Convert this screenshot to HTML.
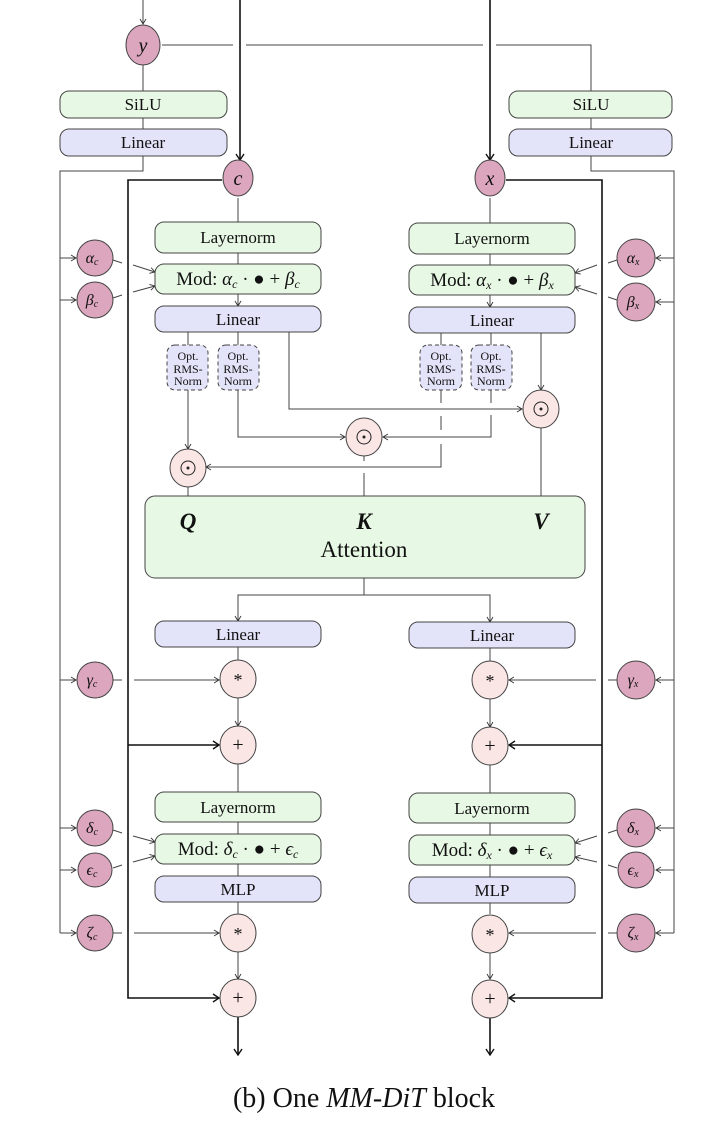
<!DOCTYPE html>
<html><head><meta charset="utf-8"><style>
html,body{margin:0;padding:0;background:#fff;}
svg{display:block;}
text{font-family:"Liberation Serif",serif;fill:#111;}
</style></head><body>
<svg width="716" height="1140" viewBox="0 0 716 1140" xmlns="http://www.w3.org/2000/svg">
<defs>
<marker id="a" markerWidth="8" markerHeight="8" refX="6" refY="4" orient="auto" markerUnits="userSpaceOnUse">
<path d="M1,1 L6,4 L1,7" fill="none" stroke="#333" stroke-width="0.9"/></marker>
<marker id="b" markerWidth="10" markerHeight="10" refX="8" refY="5" orient="auto" markerUnits="userSpaceOnUse">
<path d="M2,1 L8,5 L2,9" fill="none" stroke="#111" stroke-width="1.4"/></marker>
</defs>
<g fill="none" stroke="#444" stroke-width="1">
<line x1="143" y1="0" x2="143" y2="24" marker-end="url(#a)"/>
<line x1="143" y1="65" x2="143" y2="91"/>
<polyline points="162,45 233,45"/>
<polyline points="246,45 483,45"/>
<polyline points="496,45 591,45 591,91"/>
<line x1="143" y1="118" x2="143" y2="129"/>
<line x1="591" y1="118" x2="591" y2="129"/>
<polyline points="143,156 143,171 60,171 60,933"/>
<polyline points="591,156 591,171 674,171 674,933"/>
<line x1="60" y1="258" x2="76" y2="258" marker-end="url(#a)"/>
<line x1="60" y1="300" x2="76" y2="300" marker-end="url(#a)"/>
<line x1="60" y1="680" x2="76" y2="680" marker-end="url(#a)"/>
<line x1="60" y1="828" x2="76" y2="828" marker-end="url(#a)"/>
<line x1="60" y1="870" x2="76" y2="870" marker-end="url(#a)"/>
<line x1="60" y1="933" x2="76" y2="933" marker-end="url(#a)"/>
<line x1="674" y1="258" x2="656" y2="258" marker-end="url(#a)"/>
<line x1="674" y1="302" x2="656" y2="302" marker-end="url(#a)"/>
<line x1="674" y1="680" x2="656" y2="680" marker-end="url(#a)"/>
<line x1="674" y1="828" x2="656" y2="828" marker-end="url(#a)"/>
<line x1="674" y1="870" x2="656" y2="870" marker-end="url(#a)"/>
<line x1="674" y1="933" x2="656" y2="933" marker-end="url(#a)"/>
<line x1="113" y1="260" x2="122" y2="263"/><line x1="133" y1="265" x2="155" y2="272" marker-end="url(#a)"/>
<line x1="113" y1="298" x2="122" y2="295"/><line x1="133" y1="292" x2="155" y2="286" marker-end="url(#a)"/>
<line x1="617" y1="260" x2="608" y2="263"/><line x1="597" y1="265" x2="575" y2="273" marker-end="url(#a)"/>
<line x1="617" y1="300" x2="608" y2="297"/><line x1="597" y1="294" x2="575" y2="287" marker-end="url(#a)"/>
<line x1="113" y1="830" x2="122" y2="833"/><line x1="133" y1="836" x2="155" y2="842" marker-end="url(#a)"/>
<line x1="113" y1="868" x2="122" y2="865"/><line x1="133" y1="862" x2="155" y2="856" marker-end="url(#a)"/>
<line x1="617" y1="830" x2="608" y2="833"/><line x1="597" y1="836" x2="575" y2="843" marker-end="url(#a)"/>
<line x1="617" y1="868" x2="608" y2="865"/><line x1="597" y1="862" x2="575" y2="857" marker-end="url(#a)"/>
<line x1="113" y1="680" x2="122" y2="680"/><line x1="134" y1="680" x2="219" y2="680" marker-end="url(#a)"/>
<line x1="113" y1="933" x2="122" y2="933"/><line x1="134" y1="933" x2="219" y2="933" marker-end="url(#a)"/>
<line x1="617" y1="680" x2="608" y2="680"/><line x1="596" y1="680" x2="509" y2="680" marker-end="url(#a)"/>
<line x1="617" y1="933" x2="608" y2="933"/><line x1="596" y1="933" x2="509" y2="933" marker-end="url(#a)"/>
<line x1="238" y1="198" x2="238" y2="222"/>
<line x1="238" y1="253" x2="238" y2="264"/>
<line x1="238" y1="294" x2="238" y2="306" marker-end="url(#a)"/>
<line x1="490" y1="198" x2="490" y2="223"/>
<line x1="490" y1="254" x2="490" y2="265"/>
<line x1="490" y1="295" x2="490" y2="307" marker-end="url(#a)"/>
<line x1="188" y1="332" x2="188" y2="345"/>
<line x1="238" y1="332" x2="238" y2="345"/>
<line x1="441" y1="333" x2="441" y2="345"/>
<line x1="491" y1="333" x2="491" y2="345"/>
<line x1="188" y1="390" x2="188" y2="449" marker-end="url(#a)"/>
<polyline points="238,390 238,437 345,437" marker-end="url(#a)"/>
<polyline points="289,332 289,409 522,409" marker-end="url(#a)"/>
<line x1="541" y1="333" x2="541" y2="390" marker-end="url(#a)"/>
<polyline points="441,390 441,403"/><polyline points="441,416 441,430"/><polyline points="441,444 441,467 206,467" marker-end="url(#a)"/>
<polyline points="491,390 491,403"/><polyline points="491,415 491,437 383,437" marker-end="url(#a)"/>
<line x1="188" y1="487" x2="188" y2="496"/>
<line x1="364" y1="456" x2="364" y2="461"/>
<line x1="364" y1="473" x2="364" y2="496"/>
<line x1="541" y1="428" x2="541" y2="496"/>
<line x1="364" y1="578" x2="364" y2="595"/>
<polyline points="238,612 238,595 490,595 490,622" marker-end="url(#a)"/>
<line x1="238" y1="612" x2="238" y2="621" marker-end="url(#a)"/>
<line x1="238" y1="647" x2="238" y2="660"/>
<line x1="490" y1="648" x2="490" y2="661"/>
<line x1="238" y1="698" x2="238" y2="726" marker-end="url(#a)"/>
<line x1="490" y1="699" x2="490" y2="727" marker-end="url(#a)"/>
<line x1="238" y1="764" x2="238" y2="792"/>
<line x1="490" y1="765" x2="490" y2="793"/>
<line x1="238" y1="822" x2="238" y2="834"/>
<line x1="490" y1="823" x2="490" y2="835"/>
<line x1="238" y1="864" x2="238" y2="876"/>
<line x1="490" y1="865" x2="490" y2="877"/>
<line x1="238" y1="902" x2="238" y2="914"/>
<line x1="490" y1="903" x2="490" y2="914"/>
<line x1="238" y1="952" x2="238" y2="979" marker-end="url(#a)"/>
<line x1="490" y1="952" x2="490" y2="979" marker-end="url(#a)"/>
</g>
<g fill="none" stroke="#111" stroke-width="1.6">
<line x1="240" y1="0" x2="240" y2="160" marker-end="url(#b)"/>
<line x1="490" y1="0" x2="490" y2="160" marker-end="url(#b)"/>
<polyline points="222,180 128,180 128,998 219,998" marker-end="url(#b)"/>
<polyline points="506,180 602,180 602,998 509,998" marker-end="url(#b)"/>
<line x1="128" y1="745" x2="219" y2="745" marker-end="url(#b)"/>
<line x1="602" y1="745" x2="509" y2="745" marker-end="url(#b)"/>
<line x1="238" y1="1017" x2="238" y2="1055" marker-end="url(#b)"/>
<line x1="490" y1="1017" x2="490" y2="1055" marker-end="url(#b)"/>
</g>
<g stroke="#444" stroke-width="1">
<rect x="60" y="91" width="167" height="27" rx="9" fill="#e7f8e4"/>
<rect x="60" y="129" width="167" height="27" rx="9" fill="#e3e4f9"/>
<rect x="509" y="91" width="163" height="27" rx="9" fill="#e7f8e4"/>
<rect x="509" y="129" width="163" height="27" rx="9" fill="#e3e4f9"/>
<rect x="155" y="222" width="166" height="31" rx="9" fill="#e7f8e4"/>
<rect x="155" y="264" width="166" height="30" rx="9" fill="#e7f8e4"/>
<rect x="155" y="306" width="166" height="26" rx="9" fill="#e3e4f9"/>
<rect x="409" y="223" width="166" height="31" rx="9" fill="#e7f8e4"/>
<rect x="409" y="265" width="166" height="30" rx="9" fill="#e7f8e4"/>
<rect x="409" y="307" width="166" height="26" rx="9" fill="#e3e4f9"/>
<rect x="145" y="496" width="440" height="82" rx="10" fill="#e7f8e4"/>
<rect x="155" y="621" width="166" height="26" rx="9" fill="#e3e4f9"/>
<rect x="409" y="622" width="166" height="26" rx="9" fill="#e3e4f9"/>
<rect x="155" y="792" width="166" height="30" rx="9" fill="#e7f8e4"/>
<rect x="155" y="834" width="166" height="30" rx="9" fill="#e7f8e4"/>
<rect x="155" y="876" width="166" height="26" rx="9" fill="#e3e4f9"/>
<rect x="409" y="793" width="166" height="30" rx="9" fill="#e7f8e4"/>
<rect x="409" y="835" width="166" height="30" rx="9" fill="#e7f8e4"/>
<rect x="409" y="877" width="166" height="26" rx="9" fill="#e3e4f9"/>
</g>
<g stroke="#444" stroke-width="1" stroke-dasharray="4,3" fill="#e3e4f9">
<rect x="167" y="345" width="41" height="45" rx="8"/>
<rect x="218" y="345" width="41" height="45" rx="8"/>
<rect x="420" y="345" width="42" height="45" rx="8"/>
<rect x="471" y="345" width="41" height="45" rx="8"/>
</g>
<g stroke="#444" stroke-width="1" fill="#dca6be">
<ellipse cx="143" cy="45" rx="17" ry="20"/>
<ellipse cx="238" cy="178" rx="15" ry="18"/>
<ellipse cx="490" cy="178" rx="15" ry="18"/>
<circle cx="95" cy="258" r="18"/><circle cx="95" cy="300" r="18"/>
<circle cx="636" cy="258" r="19"/><circle cx="636" cy="302" r="19"/>
<circle cx="95" cy="680" r="18"/><circle cx="95" cy="828" r="18"/><circle cx="95" cy="870" r="17"/><circle cx="95" cy="933" r="18"/>
<circle cx="636" cy="680" r="19"/><circle cx="636" cy="828" r="19"/><circle cx="636" cy="870" r="18"/><circle cx="636" cy="933" r="19"/>
</g>
<g stroke="#444" stroke-width="1" fill="#fbe6e6">
<ellipse cx="188" cy="468" rx="18" ry="19"/>
<ellipse cx="364" cy="437" rx="18" ry="19"/>
<ellipse cx="541" cy="409" rx="18" ry="19"/>
<ellipse cx="238" cy="679" rx="18" ry="19"/><ellipse cx="490" cy="680" rx="18" ry="19"/>
<ellipse cx="238" cy="745" rx="18" ry="19"/><ellipse cx="490" cy="746" rx="18" ry="19"/>
<ellipse cx="238" cy="933" rx="18" ry="19"/><ellipse cx="490" cy="934" rx="18" ry="19"/>
<ellipse cx="238" cy="998" rx="18" ry="19"/><ellipse cx="490" cy="999" rx="18" ry="19"/>
</g>
<g stroke="#222" stroke-width="1" fill="none">
<circle cx="188" cy="468" r="7"/><circle cx="364" cy="437" r="7"/><circle cx="541" cy="409" r="7"/>
</g>
<g fill="#222"><circle cx="188" cy="468" r="1.5"/><circle cx="364" cy="437" r="1.5"/><circle cx="541" cy="409" r="1.5"/></g>
<g text-anchor="middle" font-size="17">
<text x="143" y="52" font-style="italic" font-size="20">y</text>
<text x="238" y="185" font-style="italic" font-size="20">c</text>
<text x="490" y="185" font-style="italic" font-size="20">x</text>
<text x="143" y="110">SiLU</text><text x="143" y="148">Linear</text>
<text x="591" y="110">SiLU</text><text x="591" y="148">Linear</text>
<text x="238" y="243">Layernorm</text>
<text x="238" y="285" font-size="19">Mod: <tspan font-style="italic">α</tspan><tspan font-size="12" font-style="italic" dy="3">c</tspan><tspan dy="-3"> · ● + </tspan><tspan font-style="italic">β</tspan><tspan font-size="12" font-style="italic" dy="3">c</tspan></text>
<text x="238" y="325">Linear</text>
<text x="492" y="244">Layernorm</text>
<text x="492" y="286" font-size="19">Mod: <tspan font-style="italic">α</tspan><tspan font-size="12" font-style="italic" dy="3">x</tspan><tspan dy="-3"> · ● + </tspan><tspan font-style="italic">β</tspan><tspan font-size="12" font-style="italic" dy="3">x</tspan></text>
<text x="492" y="326">Linear</text>
<text x="238" y="640">Linear</text><text x="492" y="641">Linear</text>
<text x="238" y="813">Layernorm</text><text x="492" y="814">Layernorm</text>
<text x="238" y="855" font-size="19">Mod: <tspan font-style="italic">δ</tspan><tspan font-size="12" font-style="italic" dy="3">c</tspan><tspan dy="-3"> · ● + </tspan><tspan font-style="italic">ϵ</tspan><tspan font-size="12" font-style="italic" dy="3">c</tspan></text>
<text x="492" y="856" font-size="19">Mod: <tspan font-style="italic">δ</tspan><tspan font-size="12" font-style="italic" dy="3">x</tspan><tspan dy="-3"> · ● + </tspan><tspan font-style="italic">ϵ</tspan><tspan font-size="12" font-style="italic" dy="3">x</tspan></text>
<text x="238" y="895">MLP</text><text x="492" y="896">MLP</text>
<text x="188" y="529" font-size="23" font-style="italic" font-weight="bold">Q</text>
<text x="364" y="529" font-size="23" font-style="italic" font-weight="bold">K</text>
<text x="541" y="529" font-size="23" font-style="italic" font-weight="bold">V</text>
<text x="364" y="557" font-size="23">Attention</text>
<g font-size="12">
<text x="188" y="360">Opt.</text><text x="188" y="373">RMS-</text><text x="188" y="385">Norm</text>
<text x="238" y="360">Opt.</text><text x="238" y="373">RMS-</text><text x="238" y="385">Norm</text>
<text x="441" y="360">Opt.</text><text x="441" y="373">RMS-</text><text x="441" y="385">Norm</text>
<text x="491" y="360">Opt.</text><text x="491" y="373">RMS-</text><text x="491" y="385">Norm</text>
</g>
<g font-size="16" font-style="italic">
<text x="92" y="263">α<tspan font-size="10" dy="2">c</tspan></text>
<text x="92" y="305">β<tspan font-size="10" dy="2">c</tspan></text>
<text x="633" y="263">α<tspan font-size="10" dy="2">x</tspan></text>
<text x="633" y="307">β<tspan font-size="10" dy="2">x</tspan></text>
<text x="92" y="685">γ<tspan font-size="10" dy="2">c</tspan></text>
<text x="92" y="833">δ<tspan font-size="10" dy="2">c</tspan></text>
<text x="92" y="875">ϵ<tspan font-size="10" dy="2">c</tspan></text>
<text x="92" y="938">ζ<tspan font-size="10" dy="2">c</tspan></text>
<text x="633" y="685">γ<tspan font-size="10" dy="2">x</tspan></text>
<text x="633" y="833">δ<tspan font-size="10" dy="2">x</tspan></text>
<text x="633" y="875">ϵ<tspan font-size="10" dy="2">x</tspan></text>
<text x="633" y="938">ζ<tspan font-size="10" dy="2">x</tspan></text>
</g>
<g font-size="18">
<text x="238" y="686">*</text><text x="490" y="687">*</text>
<text x="238" y="940">*</text><text x="490" y="941">*</text>
<text x="238" y="751" font-size="20">+</text><text x="490" y="752" font-size="20">+</text>
<text x="238" y="1004" font-size="20">+</text><text x="490" y="1005" font-size="20">+</text>
</g>
<text x="364" y="1107" font-size="28">(b) One <tspan font-style="italic">MM-DiT</tspan> block</text>
</g>
</svg>
</body></html>
